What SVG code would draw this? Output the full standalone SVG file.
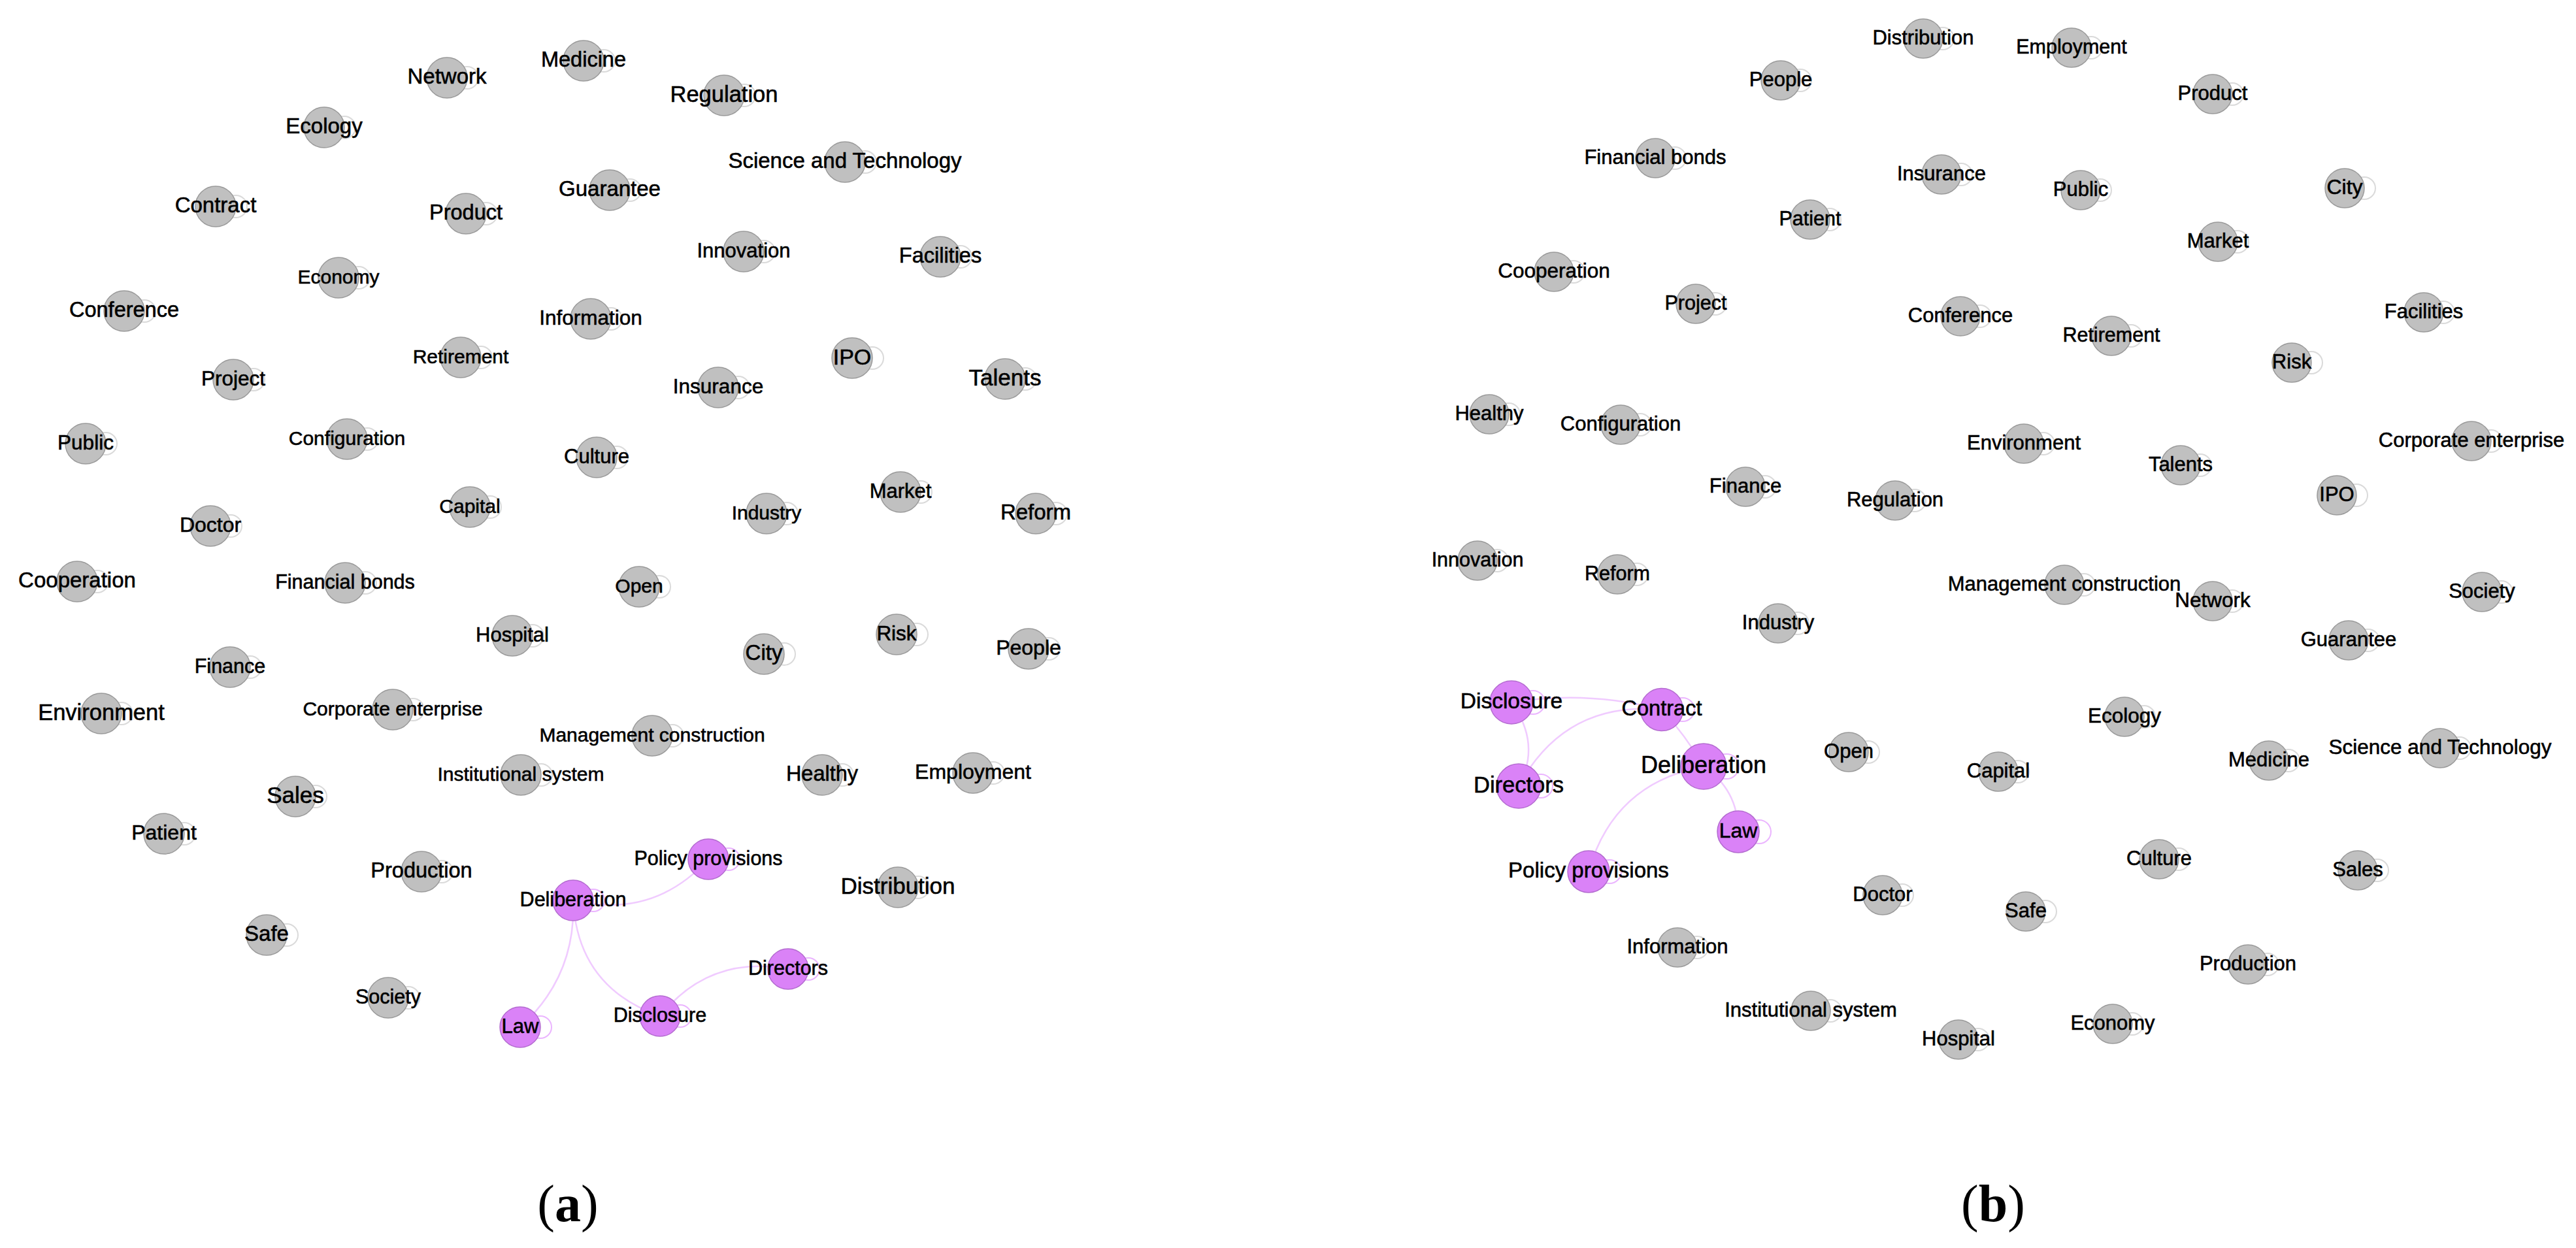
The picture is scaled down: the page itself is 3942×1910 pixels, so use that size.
<svg xmlns="http://www.w3.org/2000/svg" width="3942" height="1910" viewBox="0 0 3942 1910">
<style>
.g{fill:#c0c0c0;stroke:#9a9a9a;stroke-width:1.5}
.p{fill:#da82f7;stroke:#b46cd0;stroke-width:1.5}
text{font-family:"Liberation Sans",Arial,sans-serif;text-anchor:middle;fill:#000;stroke:#000;stroke-width:0.6}
.lg{fill:none;stroke:#dadada;stroke-width:2}
.lp{fill:none;stroke:#ebb5ff;stroke-width:2}
.e{fill:none;stroke:#f0cbff;stroke-width:2.5}
.cap{font-family:"Liberation Serif","Times New Roman",serif;font-size:80px;fill:#000;stroke:none}
</style>
<rect width="3942" height="1910" fill="#fff"/>
<g id="connectors">
<path class="e" d="M877,1378 Q1000,1407 1084,1315"/>
<path class="e" d="M877,1378 Q882,1494 796,1572"/>
<path class="e" d="M877,1378 Q884,1511 1010,1555"/>
<path class="e" d="M1010,1555 Q1086,1461 1206,1483"/>
<path class="e" d="M2313,1075 Q2428,1056 2543,1086"/>
<path class="e" d="M2313,1075 Q2359,1139 2324,1203"/>
<path class="e" d="M2324,1203 Q2395,1072 2543,1086"/>
<path class="e" d="M2543,1086 Q2580,1126 2607,1173"/>
<path class="e" d="M2607,1173 Q2660,1209 2660,1273"/>
<path class="e" d="M2607,1173 Q2469,1199 2431,1334"/>
<g id="loops-a">
<circle class="lg" cx="715" cy="119" r="17"/><circle class="lg" cx="924" cy="93" r="17"/><circle class="lg" cx="1139" cy="146" r="17"/><circle class="lg" cx="527" cy="195" r="17"/><circle class="lg" cx="1324" cy="248" r="17"/><circle class="lg" cx="361" cy="316" r="17"/><circle class="lg" cx="744" cy="327" r="17"/><circle class="lg" cx="964" cy="291" r="17"/><circle class="lg" cx="1169" cy="385" r="17"/><circle class="lg" cx="1470" cy="393" r="17"/><circle class="lg" cx="549" cy="425" r="17"/><circle class="lg" cx="221" cy="476" r="17"/><circle class="lg" cx="935" cy="488" r="17"/><circle class="lg" cx="736" cy="547" r="17"/><circle class="lg" cx="388" cy="581" r="17"/><circle class="lg" cx="1130" cy="593" r="17"/><circle class="lg" cx="1335" cy="548" r="17"/><circle class="lg" cx="1569" cy="580" r="17"/><circle class="lg" cx="162" cy="679" r="17"/><circle class="lg" cx="562" cy="672" r="17"/><circle class="lg" cx="944" cy="700" r="17"/><circle class="lg" cx="353" cy="805" r="17"/><circle class="lg" cx="750" cy="776" r="17"/><circle class="lg" cx="1204" cy="786" r="17"/><circle class="lg" cx="1409" cy="753" r="17"/><circle class="lg" cx="1616" cy="786" r="17"/><circle class="lg" cx="149" cy="890" r="17"/><circle class="lg" cx="559" cy="892" r="17"/><circle class="lg" cx="1009" cy="898" r="17"/><circle class="lg" cx="815" cy="973" r="17"/><circle class="lg" cx="1403" cy="971" r="17"/><circle class="lg" cx="1200" cy="1001" r="17"/><circle class="lg" cx="1605" cy="993" r="17"/><circle class="lg" cx="383" cy="1021" r="17"/><circle class="lg" cx="186" cy="1092" r="17"/><circle class="lg" cx="632" cy="1086" r="17"/><circle class="lg" cx="1029" cy="1126" r="17"/><circle class="lg" cx="828" cy="1186" r="17"/><circle class="lg" cx="1289" cy="1186" r="17"/><circle class="lg" cx="1520" cy="1183" r="17"/><circle class="lg" cx="483" cy="1219" r="17"/><circle class="lg" cx="282" cy="1276" r="17"/><circle class="lg" cx="676" cy="1334" r="17"/><circle class="lg" cx="1405" cy="1358" r="17"/><circle class="lg" cx="439" cy="1431" r="17"/><circle class="lg" cx="625" cy="1527" r="17"/>
<circle class="lp" cx="908" cy="1378" r="17"/><circle class="lp" cx="1115" cy="1315" r="17"/><circle class="lp" cx="827" cy="1572" r="17"/><circle class="lp" cx="1041" cy="1555" r="17"/><circle class="lp" cx="1237" cy="1483" r="17"/>
</g>
<g id="loops-b">
<circle class="lg" cx="2973" cy="59" r="17"/><circle class="lg" cx="3200" cy="73" r="17"/><circle class="lg" cx="2755" cy="123" r="17"/><circle class="lg" cx="3416" cy="144" r="17"/><circle class="lg" cx="2563" cy="242" r="17"/><circle class="lg" cx="3001" cy="267" r="17"/><circle class="lg" cx="3214" cy="291" r="17"/><circle class="lg" cx="3618" cy="288" r="17"/><circle class="lg" cx="2800" cy="336" r="17"/><circle class="lg" cx="3424" cy="370" r="17"/><circle class="lg" cx="2408" cy="416" r="17"/><circle class="lg" cx="2625" cy="465" r="17"/><circle class="lg" cx="3030" cy="484" r="17"/><circle class="lg" cx="3261" cy="514" r="17"/><circle class="lg" cx="3739" cy="478" r="17"/><circle class="lg" cx="3537" cy="555" r="17"/><circle class="lg" cx="2309" cy="634" r="17"/><circle class="lg" cx="2510" cy="650" r="17"/><circle class="lg" cx="3127" cy="679" r="17"/><circle class="lg" cx="3367" cy="712" r="17"/><circle class="lg" cx="3812" cy="675" r="17"/><circle class="lg" cx="2701" cy="745" r="17"/><circle class="lg" cx="2930" cy="766" r="17"/><circle class="lg" cx="3606" cy="758" r="17"/><circle class="lg" cx="2291" cy="858" r="17"/><circle class="lg" cx="2505" cy="879" r="17"/><circle class="lg" cx="3189" cy="895" r="17"/><circle class="lg" cx="3416" cy="920" r="17"/><circle class="lg" cx="3828" cy="906" r="17"/><circle class="lg" cx="2751" cy="954" r="17"/><circle class="lg" cx="3624" cy="980" r="17"/><circle class="lg" cx="3281" cy="1097" r="17"/><circle class="lg" cx="2859" cy="1151" r="17"/><circle class="lg" cx="3088" cy="1181" r="17"/><circle class="lg" cx="3502" cy="1164" r="17"/><circle class="lg" cx="3764" cy="1145" r="17"/><circle class="lg" cx="3334" cy="1315" r="17"/><circle class="lg" cx="3638" cy="1332" r="17"/><circle class="lg" cx="2911" cy="1370" r="17"/><circle class="lg" cx="3130" cy="1395" r="17"/><circle class="lg" cx="3470" cy="1476" r="17"/><circle class="lg" cx="2597" cy="1450" r="17"/><circle class="lg" cx="2801" cy="1547" r="17"/><circle class="lg" cx="3027" cy="1591" r="17"/><circle class="lg" cx="3263" cy="1567" r="17"/>
<circle class="lp" cx="2346" cy="1075" r="18"/><circle class="lp" cx="2575" cy="1086" r="18"/><circle class="lp" cx="2642" cy="1173" r="19"/><circle class="lp" cx="2358" cy="1203" r="18"/><circle class="lp" cx="2692" cy="1273" r="18"/><circle class="lp" cx="2463" cy="1334" r="18"/>
</g>
</g>
<g id="graph-a">
<g id="a-network"><circle class="g" cx="684" cy="119" r="31"/><text x="684" y="128" font-size="33">Network</text></g>
<g id="a-medicine"><circle class="g" cx="893" cy="93" r="31"/><text x="893" y="102" font-size="32.5">Medicine</text></g>
<g id="a-regulation"><circle class="g" cx="1108" cy="146" r="31"/><text x="1108" y="156" font-size="34.5">Regulation</text></g>
<g id="a-ecology"><circle class="g" cx="496" cy="195" r="31"/><text x="496" y="204" font-size="33">Ecology</text></g>
<g id="a-science"><circle class="g" cx="1293" cy="248" r="31"/><text x="1293" y="257" font-size="33">Science and Technology</text></g>
<g id="a-contract"><circle class="g" cx="330" cy="316" r="31"/><text x="330" y="325" font-size="33">Contract</text></g>
<g id="a-product"><circle class="g" cx="713" cy="327" r="31"/><text x="713" y="336" font-size="32.5">Product</text></g>
<g id="a-guarantee"><circle class="g" cx="933" cy="291" r="31"/><text x="933" y="300" font-size="33">Guarantee</text></g>
<g id="a-innovation"><circle class="g" cx="1138" cy="385" r="31"/><text x="1138" y="394" font-size="31">Innovation</text></g>
<g id="a-facilities"><circle class="g" cx="1439" cy="393" r="31"/><text x="1439" y="402" font-size="32.5">Facilities</text></g>
<g id="a-economy"><circle class="g" cx="518" cy="425" r="31"/><text x="518" y="434" font-size="30">Economy</text></g>
<g id="a-conference"><circle class="g" cx="190" cy="476" r="31"/><text x="190" y="485" font-size="32.5">Conference</text></g>
<g id="a-information"><circle class="g" cx="904" cy="488" r="31"/><text x="904" y="497" font-size="31.5">Information</text></g>
<g id="a-retirement"><circle class="g" cx="705" cy="547" r="31"/><text x="705" y="556" font-size="30">Retirement</text></g>
<g id="a-project"><circle class="g" cx="357" cy="581" r="31"/><text x="357" y="590" font-size="31.5">Project</text></g>
<g id="a-insurance"><circle class="g" cx="1099" cy="593" r="31"/><text x="1099" y="602" font-size="31.5">Insurance</text></g>
<g id="a-ipo"><circle class="g" cx="1304" cy="548" r="31"/><text x="1304" y="558" font-size="34">IPO</text></g>
<g id="a-talents"><circle class="g" cx="1538" cy="580" r="31"/><text x="1538" y="590" font-size="35">Talents</text></g>
<g id="a-public"><circle class="g" cx="131" cy="679" r="31"/><text x="131" y="688" font-size="31.5">Public</text></g>
<g id="a-configuration"><circle class="g" cx="531" cy="672" r="31"/><text x="531" y="681" font-size="30">Configuration</text></g>
<g id="a-culture"><circle class="g" cx="913" cy="700" r="31"/><text x="913" y="709" font-size="31">Culture</text></g>
<g id="a-doctor"><circle class="g" cx="322" cy="805" r="31"/><text x="322" y="814" font-size="32">Doctor</text></g>
<g id="a-capital"><circle class="g" cx="719" cy="776" r="31"/><text x="719" y="785" font-size="30">Capital</text></g>
<g id="a-industry"><circle class="g" cx="1173" cy="786" r="31"/><text x="1173" y="795" font-size="30">Industry</text></g>
<g id="a-market"><circle class="g" cx="1378" cy="753" r="31"/><text x="1378" y="762" font-size="31">Market</text></g>
<g id="a-reform"><circle class="g" cx="1585" cy="786" r="31"/><text x="1585" y="795" font-size="33">Reform</text></g>
<g id="a-cooperation"><circle class="g" cx="118" cy="890" r="31"/><text x="118" y="899" font-size="33">Cooperation</text></g>
<g id="a-financial-bonds"><circle class="g" cx="528" cy="892" r="31"/><text x="528" y="901" font-size="30.5">Financial bonds</text></g>
<g id="a-open"><circle class="g" cx="978" cy="898" r="31"/><text x="978" y="907" font-size="30">Open</text></g>
<g id="a-hospital"><circle class="g" cx="784" cy="973" r="31"/><text x="784" y="982" font-size="31">Hospital</text></g>
<g id="a-risk"><circle class="g" cx="1372" cy="971" r="31"/><text x="1372" y="980" font-size="31.5">Risk</text></g>
<g id="a-city"><circle class="g" cx="1169" cy="1001" r="31"/><text x="1169" y="1010" font-size="33">City</text></g>
<g id="a-people"><circle class="g" cx="1574" cy="993" r="31"/><text x="1574" y="1002" font-size="32">People</text></g>
<g id="a-finance"><circle class="g" cx="352" cy="1021" r="31"/><text x="352" y="1030" font-size="30.5">Finance</text></g>
<g id="a-environment"><circle class="g" cx="155" cy="1092" r="31"/><text x="155" y="1102" font-size="34.5">Environment</text></g>
<g id="a-corporate"><circle class="g" cx="601" cy="1086" r="31"/><text x="601" y="1095" font-size="30">Corporate enterprise</text></g>
<g id="a-management"><circle class="g" cx="998" cy="1126" r="31"/><text x="998" y="1135" font-size="30">Management construction</text></g>
<g id="a-institutional"><circle class="g" cx="797" cy="1186" r="31"/><text x="797" y="1195" font-size="30">Institutional system</text></g>
<g id="a-healthy"><circle class="g" cx="1258" cy="1186" r="31"/><text x="1258" y="1195" font-size="32.5">Healthy</text></g>
<g id="a-employment"><circle class="g" cx="1489" cy="1183" r="31"/><text x="1489" y="1192" font-size="32">Employment</text></g>
<g id="a-sales"><circle class="g" cx="452" cy="1219" r="31"/><text x="452" y="1229" font-size="35">Sales</text></g>
<g id="a-patient"><circle class="g" cx="251" cy="1276" r="31"/><text x="251" y="1285" font-size="32">Patient</text></g>
<g id="a-production"><circle class="g" cx="645" cy="1334" r="31"/><text x="645" y="1343" font-size="32.5">Production</text></g>
<g id="a-distribution"><circle class="g" cx="1374" cy="1358" r="31"/><text x="1374" y="1368" font-size="35">Distribution</text></g>
<g id="a-safe"><circle class="g" cx="408" cy="1431" r="31"/><text x="408" y="1440" font-size="33">Safe</text></g>
<g id="a-society"><circle class="g" cx="594" cy="1527" r="31"/><text x="594" y="1536" font-size="30.5">Society</text></g>
<g id="a-deliberation"><circle class="p" cx="877" cy="1378" r="31"/><text x="877" y="1387" font-size="30.5">Deliberation</text></g>
<g id="a-policy"><circle class="p" cx="1084" cy="1315" r="31"/><text x="1084" y="1324" font-size="30.5">Policy provisions</text></g>
<g id="a-law"><circle class="p" cx="796" cy="1572" r="31"/><text x="796" y="1581" font-size="31">Law</text></g>
<g id="a-disclosure"><circle class="p" cx="1010" cy="1555" r="31"/><text x="1010" y="1564" font-size="30.5">Disclosure</text></g>
<g id="a-directors"><circle class="p" cx="1206" cy="1483" r="31"/><text x="1206" y="1492" font-size="30.5">Directors</text></g>
<text id="label-a" class="cap" x="869" y="1869">(<tspan font-weight="bold">a</tspan>)</text>
</g>
<g id="graph-b">
<g id="b-distribution"><circle class="g" cx="2943" cy="59" r="30"/><text x="2943" y="68" font-size="31">Distribution</text></g>
<g id="b-employment"><circle class="g" cx="3170" cy="73" r="30"/><text x="3170" y="82" font-size="30.5">Employment</text></g>
<g id="b-people"><circle class="g" cx="2725" cy="123" r="30"/><text x="2725" y="132" font-size="31">People</text></g>
<g id="b-product"><circle class="g" cx="3386" cy="144" r="30"/><text x="3386" y="153" font-size="31">Product</text></g>
<g id="b-financial-bonds"><circle class="g" cx="2533" cy="242" r="30"/><text x="2533" y="251" font-size="31">Financial bonds</text></g>
<g id="b-insurance"><circle class="g" cx="2971" cy="267" r="30"/><text x="2971" y="276" font-size="31">Insurance</text></g>
<g id="b-public"><circle class="g" cx="3184" cy="291" r="30"/><text x="3184" y="300" font-size="31">Public</text></g>
<g id="b-city"><circle class="g" cx="3588" cy="288" r="30"/><text x="3588" y="297" font-size="32">City</text></g>
<g id="b-patient"><circle class="g" cx="2770" cy="336" r="30"/><text x="2770" y="345" font-size="30.5">Patient</text></g>
<g id="b-market"><circle class="g" cx="3394" cy="370" r="30"/><text x="3394" y="379" font-size="31">Market</text></g>
<g id="b-cooperation"><circle class="g" cx="2378" cy="416" r="30"/><text x="2378" y="425" font-size="31.5">Cooperation</text></g>
<g id="b-project"><circle class="g" cx="2595" cy="465" r="30"/><text x="2595" y="474" font-size="30.5">Project</text></g>
<g id="b-conference"><circle class="g" cx="3000" cy="484" r="30"/><text x="3000" y="493" font-size="31">Conference</text></g>
<g id="b-retirement"><circle class="g" cx="3231" cy="514" r="30"/><text x="3231" y="523" font-size="30.5">Retirement</text></g>
<g id="b-facilities"><circle class="g" cx="3709" cy="478" r="30"/><text x="3709" y="487" font-size="31">Facilities</text></g>
<g id="b-risk"><circle class="g" cx="3507" cy="555" r="30"/><text x="3507" y="564" font-size="31">Risk</text></g>
<g id="b-healthy"><circle class="g" cx="2279" cy="634" r="30"/><text x="2279" y="643" font-size="31">Healthy</text></g>
<g id="b-configuration"><circle class="g" cx="2480" cy="650" r="30"/><text x="2480" y="659" font-size="31">Configuration</text></g>
<g id="b-environment"><circle class="g" cx="3097" cy="679" r="30"/><text x="3097" y="688" font-size="31">Environment</text></g>
<g id="b-talents"><circle class="g" cx="3337" cy="712" r="30"/><text x="3337" y="721" font-size="31">Talents</text></g>
<g id="b-corporate"><circle class="g" cx="3782" cy="675" r="30"/><text x="3782" y="684" font-size="31">Corporate enterprise</text></g>
<g id="b-finance"><circle class="g" cx="2671" cy="745" r="30"/><text x="2671" y="754" font-size="31">Finance</text></g>
<g id="b-regulation"><circle class="g" cx="2900" cy="766" r="30"/><text x="2900" y="775" font-size="31">Regulation</text></g>
<g id="b-ipo"><circle class="g" cx="3576" cy="758" r="30"/><text x="3576" y="767" font-size="31">IPO</text></g>
<g id="b-innovation"><circle class="g" cx="2261" cy="858" r="30"/><text x="2261" y="867" font-size="30.5">Innovation</text></g>
<g id="b-reform"><circle class="g" cx="2475" cy="879" r="30"/><text x="2475" y="888" font-size="30.5">Reform</text></g>
<g id="b-management"><circle class="g" cx="3159" cy="895" r="30"/><text x="3159" y="904" font-size="31">Management construction</text></g>
<g id="b-network"><circle class="g" cx="3386" cy="920" r="30"/><text x="3386" y="929" font-size="31.5">Network</text></g>
<g id="b-society"><circle class="g" cx="3798" cy="906" r="30"/><text x="3798" y="915" font-size="31">Society</text></g>
<g id="b-industry"><circle class="g" cx="2721" cy="954" r="30"/><text x="2721" y="963" font-size="31">Industry</text></g>
<g id="b-guarantee"><circle class="g" cx="3594" cy="980" r="30"/><text x="3594" y="989" font-size="31">Guarantee</text></g>
<g id="b-ecology"><circle class="g" cx="3251" cy="1097" r="30"/><text x="3251" y="1106" font-size="31.5">Ecology</text></g>
<g id="b-open"><circle class="g" cx="2829" cy="1151" r="30"/><text x="2829" y="1160" font-size="31">Open</text></g>
<g id="b-capital"><circle class="g" cx="3058" cy="1181" r="30"/><text x="3058" y="1190" font-size="31">Capital</text></g>
<g id="b-medicine"><circle class="g" cx="3472" cy="1164" r="30"/><text x="3472" y="1173" font-size="31">Medicine</text></g>
<g id="b-science"><circle class="g" cx="3734" cy="1145" r="30"/><text x="3734" y="1154" font-size="31.5">Science and Technology</text></g>
<g id="b-culture"><circle class="g" cx="3304" cy="1315" r="30"/><text x="3304" y="1324" font-size="31">Culture</text></g>
<g id="b-sales"><circle class="g" cx="3608" cy="1332" r="30"/><text x="3608" y="1341" font-size="31">Sales</text></g>
<g id="b-doctor"><circle class="g" cx="2881" cy="1370" r="30"/><text x="2881" y="1379" font-size="31">Doctor</text></g>
<g id="b-safe"><circle class="g" cx="3100" cy="1395" r="30"/><text x="3100" y="1404" font-size="31">Safe</text></g>
<g id="b-production"><circle class="g" cx="3440" cy="1476" r="30"/><text x="3440" y="1485" font-size="31">Production</text></g>
<g id="b-information"><circle class="g" cx="2567" cy="1450" r="30"/><text x="2567" y="1459" font-size="31">Information</text></g>
<g id="b-institutional"><circle class="g" cx="2771" cy="1547" r="30"/><text x="2771" y="1556" font-size="31">Institutional system</text></g>
<g id="b-hospital"><circle class="g" cx="2997" cy="1591" r="30"/><text x="2997" y="1600" font-size="31">Hospital</text></g>
<g id="b-economy"><circle class="g" cx="3233" cy="1567" r="30"/><text x="3233" y="1576" font-size="31">Economy</text></g>
<g id="b-disclosure"><circle class="p" cx="2313" cy="1075" r="33"/><text x="2313" y="1084" font-size="33.5">Disclosure</text></g>
<g id="b-contract"><circle class="p" cx="2543" cy="1086" r="32.5"/><text x="2543" y="1095" font-size="32.5">Contract</text></g>
<g id="b-deliberation"><circle class="p" cx="2607" cy="1173" r="35"/><text x="2607" y="1183" font-size="36">Deliberation</text></g>
<g id="b-directors"><circle class="p" cx="2324" cy="1203" r="34"/><text x="2324" y="1213" font-size="34.5">Directors</text></g>
<g id="b-law"><circle class="p" cx="2660" cy="1273" r="32"/><text x="2660" y="1282" font-size="32">Law</text></g>
<g id="b-policy"><circle class="p" cx="2431" cy="1334" r="32"/><text x="2431" y="1343" font-size="33">Policy provisions</text></g>
<text id="label-b" class="cap" x="3050" y="1869">(<tspan font-weight="bold">b</tspan>)</text>
</g>
</svg>
